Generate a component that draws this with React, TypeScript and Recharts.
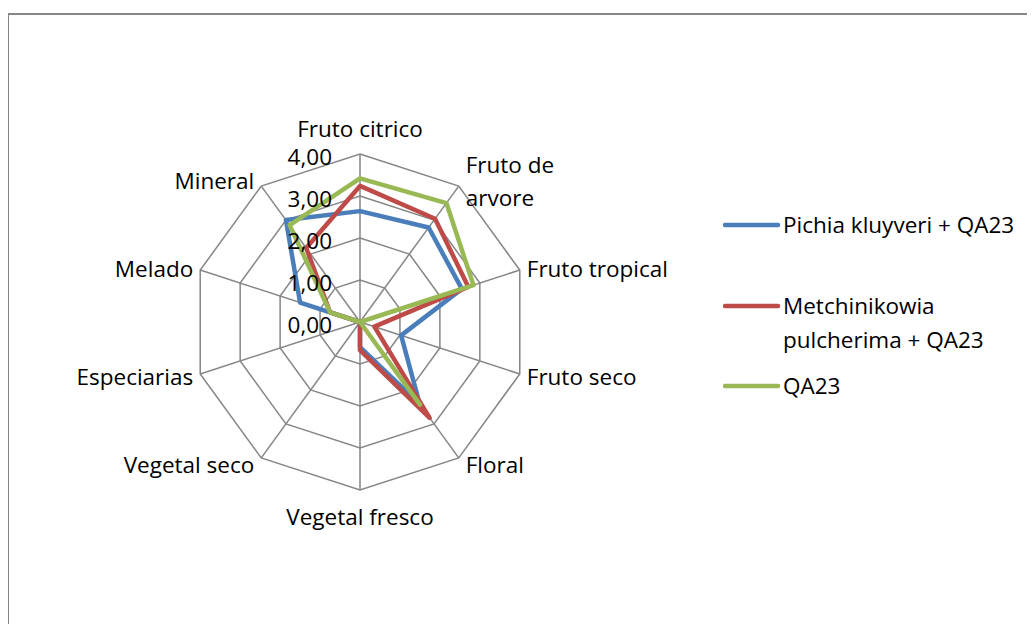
import React from "react";
import {
  RadarChart,
  Radar,
  PolarGrid,
  PolarAngleAxis,
  PolarRadiusAxis,
} from "recharts";

const categories = [
  "Fruto citrico",
  "Fruto de arvore",
  "Fruto tropical",
  "Fruto seco",
  "Floral",
  "Vegetal fresco",
  "Vegetal seco",
  "Especiarias",
  "Melado",
  "Mineral",
];
const pichia = [2.64, 2.78, 2.55, 1.03, 2.42, 0.6, 0, 0, 1.5, 3.0];
const metchnikowia = [3.24, 3.04, 2.71, 0.36, 2.82, 0.67, 0, 0, 0.75, 2.18];
const qa23 = [3.42, 3.5, 2.84, 0, 2.43, 0, 0, 0, 0.75, 2.85];
const radiusTicks = [0, 1, 2, 3, 4];

const seriesNames = ["Pichia kluyveri + QA23", "Metchinikowia pulcherima + QA23", "QA23"];
const seriesColors = ["#4A7EBB", "#BE4B48", "#98B954"];
// Excel wraps these labels onto two lines
const wrapped: Record<string, string[]> = {
  "Fruto de arvore": ["Fruto de", "arvore"],
  "Metchinikowia pulcherima + QA23": ["Metchinikowia", "pulcherima + QA23"],
};

const CX = 352;
const CY = 314;
const R = 168;
const FONT = "'Open Sans', Lato, sans-serif";
const FS = 22.5;
const GRID = "#868686";

const data = categories.map((c, i) => ({
  name: c,
  pichia: pichia[i],
  metch: metchnikowia[i],
  qa23: qa23[i],
}));

function AngleTick(props: any) {
  const { payload } = props;
  const i = categories.indexOf(payload.value);
  const a = ((90 - i * 36) * Math.PI) / 180;
  const vx = CX + R * Math.cos(a);
  const vy = CY - R * Math.sin(a);
  const lines = wrapped[payload.value] || [payload.value];
  const lh = 33;
  let x = vx;
  let y = vy;
  let anchor: "start" | "middle" | "end" = "middle";
  if (Math.abs(Math.cos(a)) < 0.01) {
    y = vy - Math.sin(a) * 26;
  } else {
    anchor = Math.cos(a) > 0 ? "start" : "end";
    x = vx + Math.sign(Math.cos(a)) * 7;
    y = vy - Math.sin(a) * 7;
  }
  const y0 = y - ((lines.length - 1) * lh) / 2;
  return (
    <text
      textAnchor={anchor}
      fontFamily={FONT}
      fontSize={FS}
      fill="#000"
      dominantBaseline="central"
    >
      {lines.map((l, k) => (
        <tspan key={k} x={x} y={y0 + k * lh}>
          {l}
        </tspan>
      ))}
    </text>
  );
}

function RadiusTick(props: any) {
  const { x, y, payload } = props;
  return (
    <text
      x={x - 28}
      y={y + 2}
      textAnchor="end"
      dominantBaseline="central"
      fontFamily={FONT}
      fontSize={FS}
      fill="#000"
    >
      {Number(payload.value).toFixed(2).replace(".", ",")}
    </text>
  );
}

function LegendBox() {
  // vertical centre of the first line of each entry
  const rows = [217, 298, 378];
  return (
    <div style={{ position: "absolute", left: 715, top: 0, fontFamily: FONT, fontSize: FS }}>
      {seriesNames.map((n, i) => {
        const lines = wrapped[n] || [n];
        return (
          <div key={n} style={{ position: "absolute", left: 0, top: rows[i] - 16 }}>
            <svg width={60} height={32} style={{ position: "absolute", left: 0, top: 0 }}>
              <line
                x1={2}
                y1={16}
                x2={55}
                y2={16}
                stroke={seriesColors[i]}
                strokeWidth={4.5}
                strokeLinecap="round"
              />
            </svg>
            {lines.map((l, k) => (
              <div
                key={k}
                style={{
                  position: "absolute",
                  left: 60,
                  top: k * 34,
                  height: 32,
                  lineHeight: "32px",
                  whiteSpace: "nowrap",
                  color: "#000",
                }}
              >
                {l}
              </div>
            ))}
          </div>
        );
      })}
    </div>
  );
}

export default function App() {
  return (
    <div
      style={{
        position: "relative",
        width: 1027,
        height: 616,
        overflow: "hidden",
        background: "#fff",
        fontFamily: FONT,
      }}
    >
      <div
        style={{
          position: "absolute",
          left: -1,
          top: 5,
          width: 1060,
          height: 660,
          border: `2px solid ${GRID}`,
        }}
      />
      <div style={{ position: "absolute", left: 0, top: 0 }}>
        <RadarChart width={1027} height={616} data={data} cx={CX} cy={CY} outerRadius={R}>
          <PolarGrid gridType="polygon" stroke={GRID} strokeWidth={1.5} />
          <PolarAngleAxis dataKey="name" tick={<AngleTick />} tickLine={false} axisLine={false} />
          <PolarRadiusAxis
            angle={90}
            domain={[0, 4]}
            ticks={radiusTicks}
            tick={<RadiusTick />}
            axisLine={false}
            tickLine={false}
          />
          <Radar
            dataKey="pichia"
            name={seriesNames[0]}
            stroke={seriesColors[0]}
            strokeWidth={4.5}
            strokeLinejoin="round"
            fill="none"
            fillOpacity={0}
            dot={false}
            isAnimationActive={false}
          />
          <Radar
            dataKey="metch"
            name={seriesNames[1]}
            stroke={seriesColors[1]}
            strokeWidth={4.5}
            strokeLinejoin="round"
            fill="none"
            fillOpacity={0}
            dot={false}
            isAnimationActive={false}
          />
          <Radar
            dataKey="qa23"
            name={seriesNames[2]}
            stroke={seriesColors[2]}
            strokeWidth={4.5}
            strokeLinejoin="round"
            fill="none"
            fillOpacity={0}
            dot={false}
            isAnimationActive={false}
          />
        </RadarChart>
      </div>
      <LegendBox />
    </div>
  );
}
